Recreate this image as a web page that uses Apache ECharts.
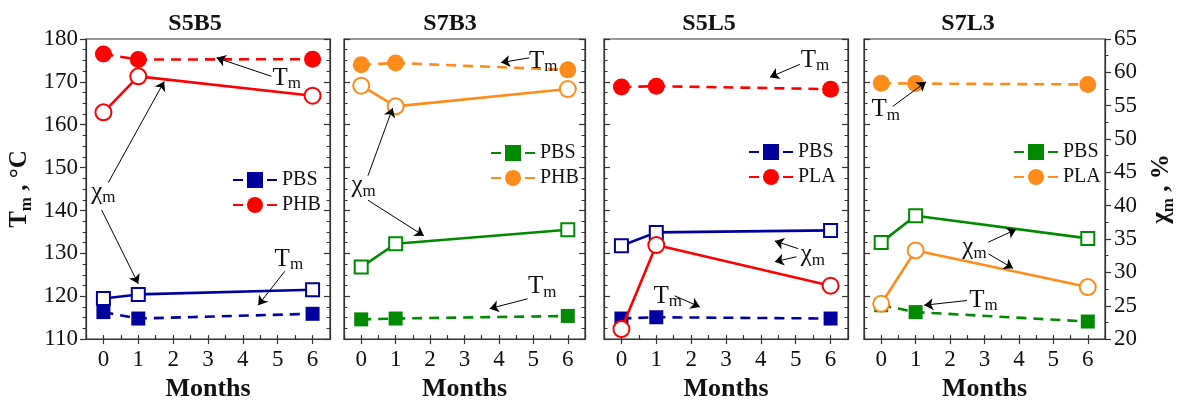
<!DOCTYPE html>
<html><head><meta charset="utf-8">
<script src="https://cdn.jsdelivr.net/npm/echarts@6/dist/echarts.min.js"></script>
<style>html,body{margin:0;padding:0;background:#fff}#c{width:1178px;height:407px}</style>
</head><body><div id="c"></div>
<script>
const FONT = 'Liberation Serif';

// ---------- data ----------
const months = [0, 1, 6];
const xTickLabels = [0, 1, 2, 3, 4, 5, 6];
const xMinorTicks = [-0.5, 0, 0.5, 1, 1.5, 2, 2.5, 3, 3.5, 4, 4.5, 5, 5.5, 6, 6.5];
const panelNames = ['S5B5', 'S7B3', 'S5L5', 'S7L3'];
const partnerNames = ['PHB', 'PHB', 'PLA', 'PLA'];

// Tm, °C (filled markers, dashed)
const tmPBS_S5B5 = [116.3, 114.8, 115.9];
const tmPHB_S5B5 = [176.5, 175.2, 175.3];
const tmPBS_S7B3 = [114.6, 114.8, 115.4];
const tmPHB_S7B3 = [174.0, 174.4, 172.8];
const tmPBS_S5L5 = [114.8, 115.1, 114.8];
const tmPLA_S5L5 = [168.8, 169.0, 168.3];
const tmPBS_S7L3 = [117.9, 116.3, 114.1];
const tmPLA_S7L3 = [169.7, 169.6, 169.4];

// χm, % (open markers, solid)
const xmPBS_S5B5 = [26.1, 26.7, 27.4];
const xmPHB_S5B5 = [54.0, 59.4, 56.5];
const xmPBS_S7B3 = [30.8, 34.3, 36.4];
const xmPHB_S7B3 = [58.0, 54.9, 57.5];
const xmPBS_S5L5 = [34.0, 36.0, 36.3];
const xmPLA_S5L5 = [21.5, 34.1, 28.0];
const xmPBS_S7L3 = [34.5, 38.5, 35.1];
const xmPLA_S7L3 = [25.3, 33.3, 27.8];

const tmPBS = [tmPBS_S5B5, tmPBS_S7B3, tmPBS_S5L5, tmPBS_S7L3];
const tmPartner = [tmPHB_S5B5, tmPHB_S7B3, tmPLA_S5L5, tmPLA_S7L3];
const xmPBS = [xmPBS_S5B5, xmPBS_S7B3, xmPBS_S5L5, xmPBS_S7L3];
const xmPartner = [xmPHB_S5B5, xmPHB_S7B3, xmPLA_S5L5, xmPLA_S7L3];

// ---------- layout / style ----------
const BLUE = '#00009e', RED = '#ff0000', GREEN = '#008a00', ORANGE = '#ff8c1a';
const pbsColor = [BLUE, GREEN, BLUE, GREEN];
const partnerColor = [RED, ORANGE, RED, ORANGE];
const gridLeft = [86, 344, 604, 864];
const gridWidth = [244, 241, 244, 244];
const gridTop = 39, gridHeight = 309;
const titleCenters = [195, 450, 709, 968];
const legendPos = [[232, 170], [490, 143], [748, 142], [1013, 142]];
const AX = '#333';

// annotation placement (data coords of the Tm scale): labels [x, y, letter], arrows [x1, y1, x2, y2]
const annotations = [
  { labels: [[5.26, 170.9, 'T'], [0.0, 144.2, 'χ'], [5.32, 128.6, 'T']],
    arrows: [[4.82, 171.3, 3.245, 175.6], [0.139, 146.5, 1.744, 170.1], [-0.05, 140.1, 1.0, 122.9], [5.2, 125.8, 4.44, 117.9]] },
  { labels: [[5.29, 174.8, 'T'], [0.07, 145.8, 'χ'], [5.26, 122.2, 'T']],
    arrows: [[4.88, 175.6, 4.06, 174.5], [0.196, 148.1, 0.913, 163.9], [0.196, 142.4, 1.82, 134.1], [4.83, 119.4, 3.73, 117.1]] },
  { labels: [[5.55, 175.0, 'T'], [5.49, 129.7, 'χ'], [1.33, 120.0, 'T']],
    arrows: [[5.12, 174.1, 4.26, 171.1], [5.07, 131.1, 4.4, 132.9], [5.02, 129.2, 4.4, 128.05], [1.53, 120.1, 2.25, 117.5]] },
  { labels: [[0.13, 163.5, 'T'], [2.71, 131.3, 'χ'], [2.97, 119.1, 'T']],
    arrows: [[0.34, 164.3, 1.3, 170.0], [3.11, 132.6, 3.92, 135.6], [3.11, 129.9, 3.83, 126.5], [2.49, 119.0, 1.25, 117.9]] }
];

const subRich = {
  t: { fontFamily: FONT, fontSize: 25, lineHeight: 28, color: '#111', verticalAlign: 'middle' },
  s: { fontFamily: FONT, fontSize: 17, lineHeight: 16, color: '#111', verticalAlign: 'bottom' }
};
const nameRich = {
  b: { fontFamily: FONT, fontSize: 25, fontWeight: 'bold', lineHeight: 30, color: '#111', verticalAlign: 'middle' },
  bs: { fontFamily: FONT, fontSize: 17, fontWeight: 'bold', lineHeight: 17, color: '#111', verticalAlign: 'bottom' }
};

const grids = [], xAxes = [], yAxes = [], series = [], legends = [], graphics = [];
const tmIdx = [], xmIdx = [];
const lineAx = { show: true, onZero: false, lineStyle: { color: AX, width: 1.2 } };

for (let i = 0; i < 4; i++) {
  grids.push({ left: gridLeft[i], top: gridTop, width: gridWidth[i], height: gridHeight,
               show: true, borderColor: AX, borderWidth: 1.2, backgroundColor: 'transparent' });
}
for (let i = 0; i < 4; i++) {
  xAxes.push({
    gridIndex: i, type: 'value', min: -0.5, max: 6.5, position: 'bottom',
    axisLine: lineAx,
    axisTick: { show: true, length: 5, inside: false, customValues: xTickLabels, lineStyle: { color: AX, width: 1.2 } },
    axisLabel: { show: true, customValues: xTickLabels, fontFamily: FONT, fontSize: 23, color: '#111', margin: 9 },
    splitLine: { show: false },
    name: 'Months', nameLocation: 'middle', nameGap: 31,
    nameTextStyle: { fontFamily: FONT, fontSize: 26, fontWeight: 'bold', color: '#111' }
  });
}
for (let i = 0; i < 4; i++) {
  xAxes.push({
    gridIndex: i, type: 'value', min: -0.5, max: 6.5, position: 'bottom',
    axisLine: { show: false, onZero: false }, axisLabel: { show: false }, splitLine: { show: false },
    axisTick: { show: true, inside: true, length: 4, customValues: xMinorTicks, lineStyle: { color: AX, width: 1.2 } }
  });
}
for (let i = 0; i < 4; i++) {
  tmIdx.push(yAxes.length);
  const first = i === 0;
  yAxes.push({
    gridIndex: i, type: 'value', position: 'left', min: 110, max: 180, interval: 10,
    axisLine: lineAx,
    axisTick: { show: true, inside: !first, length: 6, lineStyle: { color: AX, width: 1.2 } },
    minorTick: { show: true, splitNumber: 4, length: 3.5, lineStyle: { color: AX, width: 1 } },
    axisLabel: { show: first, fontFamily: FONT, fontSize: 23, color: '#111', margin: 8 },
    splitLine: { show: false },
    name: first ? '{b|T}{bs|m}{b| , °C}' : '', nameLocation: 'middle', nameRotate: 90, nameGap: 51,
    nameTextStyle: { rich: nameRich }
  });
  if (i < 3) {
    yAxes.push({
      gridIndex: i, type: 'value', position: 'right', min: 110, max: 180, interval: 10,
      axisLine: lineAx,
      axisTick: { show: true, inside: true, length: 6, lineStyle: { color: AX, width: 1.2 } },
      minorTick: { show: true, splitNumber: 4, length: 3.5, lineStyle: { color: AX, width: 1 } },
      axisLabel: { show: false }, splitLine: { show: false }
    });
  }
  xmIdx.push(yAxes.length);
  if (i < 3) {
    yAxes.push({ gridIndex: i, type: 'value', position: 'right', min: 20, max: 65, interval: 5, show: false,
                 axisLine: { onZero: false } });
  } else {
    yAxes.push({
      gridIndex: i, type: 'value', position: 'right', min: 20, max: 65, interval: 5,
      axisLine: lineAx,
      axisTick: { show: true, inside: false, length: 6, lineStyle: { color: AX, width: 1.2 } },
      minorTick: { show: true, splitNumber: 2, length: 3.5, lineStyle: { color: AX, width: 1 } },
      axisLabel: { show: true, fontFamily: FONT, fontSize: 23, color: '#111', margin: 9 },
      splitLine: { show: false },
      name: '{b|χ}{bs|m}{b| , %}', nameLocation: 'middle', nameRotate: 90, nameGap: 42,
      nameTextStyle: { rich: nameRich }
    });
  }
}

function pts(vals) { return months.map((m, k) => [m, vals[k]]); }

for (let i = 0; i < 4; i++) {
  const p = panelNames[i];
  const defs = [
    { nm: 'PBS', tm: tmPBS[i], xm: xmPBS[i], c: pbsColor[i], sym: 'rect', fs: 14, es: 13 },
    { nm: partnerNames[i], tm: tmPartner[i], xm: xmPartner[i], c: partnerColor[i], sym: 'circle', fs: 17, es: 16 }
  ];
  defs.forEach(d => {
    series.push({
      name: p + '|' + d.nm, type: 'line', xAxisIndex: i, yAxisIndex: tmIdx[i],
      data: pts(d.tm), symbol: d.sym, symbolSize: d.fs,
      itemStyle: { color: d.c }, lineStyle: { color: d.c, width: 2.6, type: [10, 7] }, z: 3
    });
  });
  defs.forEach(d => {
    series.push({
      name: p + '|' + d.nm + ' χ', type: 'line', xAxisIndex: i, yAxisIndex: xmIdx[i],
      data: pts(d.xm), symbol: 'empty' + (d.sym === 'rect' ? 'Rect' : 'Circle'), symbolSize: d.es,
      itemStyle: { color: d.c, borderWidth: 2.4 }, lineStyle: { color: d.c, width: 2.6, type: 'solid' }, z: 4
    });
  });
  const an = annotations[i];
  series.push({
    type: 'line', xAxisIndex: i, yAxisIndex: tmIdx[i], data: [], silent: true, z: 5,
    itemStyle: { color: '#000' }, lineStyle: { color: '#000' },
    markLine: {
      silent: true, animation: false, symbol: ['none', 'arrow'], symbolSize: 9,
      label: { show: false }, lineStyle: { color: '#000', width: 1, type: 'solid' },
      itemStyle: { color: '#000' },
      emphasis: { disabled: true },
      data: an.arrows.map(a => [{ coord: [a[0], a[1]] }, { coord: [a[2], a[3]] }])
    },
    markPoint: {
      silent: true, animation: false, symbol: 'circle', symbolSize: 1,
      itemStyle: { color: 'rgba(0,0,0,0)' },
      label: { show: true, position: 'inside', formatter: q => '{t|' + q.name + '}{s|m}', rich: subRich },
      data: an.labels.map(l => ({ coord: [l[0], l[1]], name: l[2] }))
    }
  });
  legends.push({
    orient: 'vertical', left: legendPos[i][0], top: legendPos[i][1], padding: 0,
    itemWidth: 44, itemHeight: 20, itemGap: 5, selectedMode: false,
    data: [p + '|PBS', p + '|' + partnerNames[i]],
    formatter: n => n.split('|')[1],
    textStyle: { fontFamily: FONT, fontSize: 20, color: '#111' }
  });
  graphics.push({
    type: 'text', x: titleCenters[i], y: 12,
    style: { text: p, align: 'center', verticalAlign: 'top', fill: '#111',
             font: 'bold 24px "Liberation Serif"' }
  });
}

const chart = echarts.init(document.getElementById('c'));
chart.setOption({
  animation: false,
  backgroundColor: '#fff',
  textStyle: { fontFamily: FONT },
  grid: grids, xAxis: xAxes, yAxis: yAxes, series: series, legend: legends,
  graphic: graphics
});
</script></body></html>
